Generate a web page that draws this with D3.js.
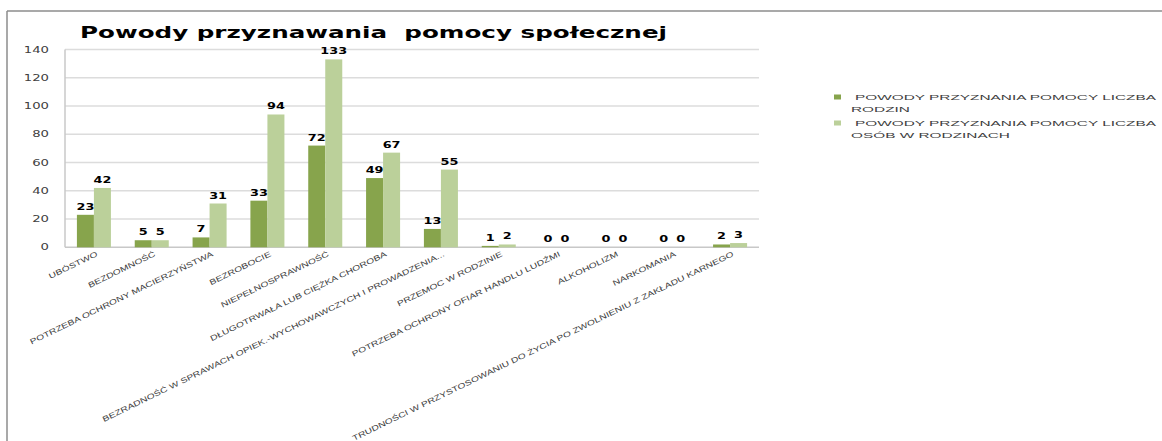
<!DOCTYPE html>
<html><head><meta charset="utf-8">
<script src="https://cdn.jsdelivr.net/npm/d3@7"></script>
<style>html,body{margin:0;padding:0;background:#fff}svg{display:block}</style>
</head><body>
<script>
const categories = ["UBÓSTWO","BEZDOMNOŚĆ","POTRZEBA OCHRONY MACIERZYŃSTWA","BEZROBOCIE","NIEPEŁNOSPRAWNOŚĆ","DŁUGOTRWAŁA LUB CIĘŻKA CHOROBA","BEZRADNOŚĆ W SPRAWACH OPIEK.-WYCHOWAWCZYCH I PROWADZENIA...","PRZEMOC W RODZINIE","POTRZEBA OCHRONY OFIAR HANDLU LUDŹMI","ALKOHOLIZM","NARKOMANIA","TRUDNOŚCI W PRZYSTOSOWANIU DO ŻYCIA PO ZWOLNIENIU Z ZAKŁADU KARNEGO"];
const rodziny = [23,5,7,33,72,49,13,1,0,0,0,2];
const osoby = [42,5,31,94,133,67,55,2,0,0,0,3];
const seriesNames = ["POWODY PRZYZNANIA POMOCY LICZBA RODZIN","POWODY PRZYZNANIA POMOCY LICZBA OSÓB W RODZINACH"];
const legendLines = [["POWODY PRZYZNANIA POMOCY LICZBA","RODZIN"],["POWODY PRZYZNANIA POMOCY LICZBA","OSÓB W RODZINACH"]];
const yTicks = [0,20,40,60,80,100,120,140];
const title = "Powody przyznawania  pomocy społecznej";
const colors = ["#87a44c","#bbd09a"];

const W=1162,H=441;
const svg=d3.select("body").append("svg").attr("width",W).attr("height",H);

function stretch(sel, f){
  sel.each(function(){const n=this.getComputedTextLength(); d3.select(this).attr("textLength",n*f).attr("lengthAdjust","spacingAndGlyphs");});
}

// frame
svg.append("line").attr("x1",7).attr("x2",W).attr("y1",11).attr("y2",11).attr("stroke","#8c8c8c").attr("stroke-width",1.5);
svg.append("line").attr("x1",7).attr("x2",7).attr("y1",11).attr("y2",H).attr("stroke","#8c8c8c").attr("stroke-width",1.5);

const y=d3.scaleLinear().domain([0,140]).range([247.3,49.5]);
const x=d3.scaleBand().domain(categories).range([65,759]).padding(0);
const xs=d3.scaleBand().domain([0,1]).range([0,x.bandwidth()]).paddingInner(0).paddingOuter(0.7);

// title
svg.append("text").attr("x",80).attr("y",37.5).attr("font-family","DejaVu Sans").attr("font-weight","bold")
  .attr("font-size",15).attr("fill","#000").text(title).attr("textLength",587).attr("lengthAdjust","spacingAndGlyphs").attr("xml:space","preserve").style("white-space","pre");

// grid
const g=svg.append("g");
g.selectAll("line.grid").data(yTicks.filter(d=>d>0)).join("line").attr("class","grid")
  .attr("x1",65).attr("x2",759).attr("y1",d=>y(d)).attr("y2",d=>y(d)).attr("stroke","#dcdcdc").attr("stroke-width",1.5);
g.append("line").attr("x1",65).attr("x2",759).attr("y1",y(0)).attr("y2",y(0)).attr("stroke","#c8c8c8").attr("stroke-width",1.5);
g.append("line").attr("x1",65).attr("x2",65).attr("y1",y(140)).attr("y2",y(0)).attr("stroke","#c8c8c8").attr("stroke-width",1.5);

// y tick labels
const yt=g.selectAll("text.yt").data(yTicks).join("text").attr("class","yt")
  .attr("x",49).attr("y",d=>y(d)+3).attr("text-anchor","end").attr("font-family","DejaVu Sans").attr("font-size",8).attr("fill","#404040").text(d=>d);
stretch(yt,1.65);

// bars
const data=categories.map((c,i)=>({c,v:[rodziny[i],osoby[i]]}));
const grp=g.selectAll("g.cat").data(data).join("g").attr("class","cat").attr("transform",d=>`translate(${x(d.c)},0)`);
grp.selectAll("rect").data(d=>d.v.map((v,k)=>({v,k}))).join("rect")
  .attr("x",d=>xs(d.k)).attr("width",xs.bandwidth()).attr("y",d=>y(d.v)).attr("height",d=>y(0)-y(d.v)).attr("fill",d=>colors[d.k]);
const vl=grp.selectAll("text").data(d=>d.v.map((v,k)=>({v,k}))).join("text")
  .attr("x",d=>xs(d.k)+xs.bandwidth()/2).attr("y",d=>y(d.v)-5).attr("text-anchor","middle")
  .attr("font-family","DejaVu Sans").attr("font-weight","bold").attr("font-size",8).attr("fill","#000").text(d=>d.v);
stretch(vl,1.6);

// category labels
const cl=g.selectAll("text.cl").data(categories).join("text").attr("class","cl")
  .attr("text-anchor","end").attr("font-family","Liberation Sans").attr("font-size",7.5).attr("fill","#404040")
  .attr("transform",d=>`translate(${x(d)+x.bandwidth()/2+3},${y(0)+6}) rotate(-26)`).attr("dy","0.35em").text(d=>d);
stretch(cl,1.37);

// legend
const lg=svg.append("g");
legendLines.forEach((lines,i)=>{
  const y0=[97,123][i];
  lg.append("rect").attr("x",834).attr("y",y0-2.5).attr("width",7).attr("height",5).attr("fill",colors[i]);
  lines.forEach((t,j)=>{
    const tx=lg.append("text").attr("x",j===0?855:851).attr("y",y0+2.5+j*12).attr("font-family","Liberation Sans")
      .attr("font-size",7.5).attr("fill","#404040").text(t);
    stretch(tx,2.05);
  });
});
</script>
</body></html>
